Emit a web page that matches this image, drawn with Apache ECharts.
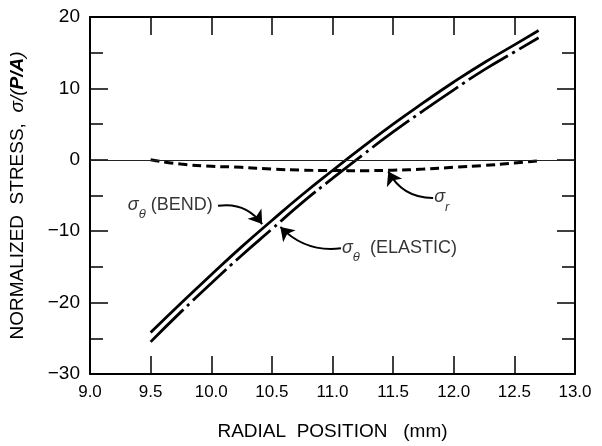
<!DOCTYPE html>
<html>
<head>
<meta charset="utf-8">
<script src="https://cdn.jsdelivr.net/npm/echarts@6/dist/echarts.min.js"></script>
<style>
html,body{margin:0;padding:0;background:#fff;}
#c{width:602px;height:446px;}
</style>
</head>
<body>
<div id="c"></div>
<script>
// ---- data ----
var xs      = [9.5, 9.75, 10.0, 10.25, 10.5, 10.75, 11.0, 11.25, 11.5, 11.75, 12.0, 12.25, 12.5, 12.7];
var bend    = [-24.2, -20.1, -16.1, -12.2, -8.5, -4.9, -1.5, 1.8, 5.0, 8.0, 10.9, 13.6, 16.1, 18.1];
var elastic = [-25.5, -21.3, -17.3, -13.4, -9.7, -6.0, -2.6, 0.7, 3.9, 6.9, 9.8, 12.6, 15.1, 17.1];
var radial  = [0, -0.6, -0.9, -1.05, -1.3, -1.45, -1.5, -1.52, -1.45, -1.3, -1.05, -0.8, -0.45, -0.15];
var xTicks  = [9.0, 9.5, 10.0, 10.5, 11.0, 11.5, 12.0, 12.5, 13.0];
var yTicks  = [-30, -20, -10, 0, 10, 20];
// annotation anchors (data coordinates): [textAnchor, arrowTip]
var bendArrow    = [[10.056, -6.44], [10.42, -9.0]];
var elasticArrow = [[11.07, -12.4], [10.57, -9.4]];
var radialArrow  = [[11.83, -5.35], [11.46, -1.65]];

function pairs(x, y){ return x.map(function(v,i){ return [v, y[i]]; }); }

var FONT = '"Liberation Sans", Arial, sans-serif';
var chart = echarts.init(document.getElementById('c'), null, {renderer:'canvas'});

var axisBase = {
  axisLine:{show:true, onZero:false, lineStyle:{color:'#000', width:2}},
  splitLine:{show:false}
};
var subRich = {
  s:{fontFamily:FONT, fontSize:18, fontStyle:'italic', color:'#000', lineHeight:19, verticalAlign:'top'},
  sub:{fontFamily:FONT, fontSize:13, fontStyle:'italic', color:'#000', lineHeight:13, verticalAlign:'bottom'},
  t:{fontFamily:FONT, fontSize:18, color:'#000', lineHeight:19, verticalAlign:'top'},
  sp:{fontSize:12, lineHeight:25, verticalAlign:'top', color:'#000'}
};

var option = {
  animation:false,
  backgroundColor:'#fff',
  grid:{left:90, right:27, top:17, bottom:62, containLabel:false},
  xAxis:[
    Object.assign({}, axisBase, {
      type:'value', position:'bottom', min:xTicks[0], max:xTicks[xTicks.length-1], interval:0.5,
      axisTick:{show:true, inside:true, length:18, lineStyle:{color:'#000', width:1.5}},
      axisLabel:{show:true, color:'#000', fontFamily:FONT, fontSize:17, margin:10,
        formatter:function(v){ return v.toFixed(1); }},
      name:'RADIAL  POSITION   (mm)', nameLocation:'middle', nameGap:48,
      nameTextStyle:{color:'#000', fontFamily:FONT, fontSize:19}
    }),
    Object.assign({}, axisBase, {
      type:'value', position:'top', min:xTicks[0], max:xTicks[xTicks.length-1], interval:0.5,
      axisTick:{show:true, inside:true, length:18, lineStyle:{color:'#000', width:1.5}},
      axisLabel:{show:false}
    })
  ],
  yAxis:[
    Object.assign({}, axisBase, {
      type:'value', position:'left', min:yTicks[0], max:yTicks[yTicks.length-1], interval:10,
      axisTick:{show:true, inside:true, length:18, lineStyle:{color:'#000', width:1.5}},
      minorTick:{show:true, splitNumber:2, length:13, lineStyle:{color:'#000', width:1.5}},
      axisLabel:{show:true, color:'#000', fontFamily:FONT, fontSize:19, margin:10,
        formatter:function(v){ return v < 0 ? '\u2212' + Math.abs(v) : String(v); }},
      name:'{n|NORMALIZED  STRESS,  }{i|\u03c3/(}{b|P/A}{i|)}', nameLocation:'middle', nameGap:63,
      nameTextStyle:{color:'#000', fontFamily:FONT, fontSize:19,
        rich:{
          n:{fontFamily:FONT, fontSize:19, color:'#000'},
          i:{fontFamily:FONT, fontSize:19, color:'#000', fontStyle:'italic'},
          b:{fontFamily:FONT, fontSize:19, color:'#000', fontStyle:'italic', fontWeight:'bold'}
        }}
    }),
    Object.assign({}, axisBase, {
      type:'value', position:'right', min:yTicks[0], max:yTicks[yTicks.length-1], interval:10,
      axisTick:{show:true, inside:true, length:18, lineStyle:{color:'#000', width:1.5}},
      minorTick:{show:true, splitNumber:2, length:13, lineStyle:{color:'#000', width:1.5}},
      axisLabel:{show:false}
    })
  ],
  series:[
    {
      name:'sigma_r', type:'line', xAxisIndex:0, yAxisIndex:0, data:pairs(xs, radial),
      smooth:true, showSymbol:false, symbol:'none',
      lineStyle:{color:'#000', width:3, type:[9,5]},
      markLine:{silent:true, symbol:['none','none'], label:{show:false},
        lineStyle:{color:'#222', width:1.2, type:'solid'}, data:[{yAxis:0}]}
    },
    {
      name:'bend', type:'line', data:pairs(xs, bend), smooth:true, showSymbol:false, symbol:'none',
      lineStyle:{color:'#000', width:2.8, type:'solid'}
    },
    {
      name:'elastic', type:'line', data:pairs(xs, elastic), smooth:true, showSymbol:false, symbol:'none',
      lineStyle:{color:'#000', width:2.8, type:[46,5,3,5]}
    },
    {
      type:'lines', coordinateSystem:'cartesian2d', polyline:false, silent:true,
      symbol:['none','arrow'], symbolSize:[9,13],
      lineStyle:{color:'#000', width:2, opacity:1},
      itemStyle:{color:'#000', opacity:1},
      data:[
        {coords:bendArrow, lineStyle:{curveness:0.3, opacity:1}},
        {coords:elasticArrow, lineStyle:{curveness:0.25, opacity:1}},
        {coords:radialArrow, lineStyle:{curveness:0.3, opacity:1}}
      ]
    },
    {
      type:'scatter', symbolSize:0, silent:true,
      data:[
        {value:bendArrow[0], label:{show:true, position:'left', distance:1, offset:[-1,3],
          formatter:'{s|\u03c3}{sub|\u03b8}{t| (BEND)}{sp| }', rich:subRich}},
        {value:elasticArrow[0], label:{show:true, position:'right', distance:1, offset:[0,3],
          formatter:'{s|\u03c3}{sub|\u03b8}{t|  (ELASTIC)}{sp| }', rich:subRich}},
        {value:radialArrow[0], label:{show:true, position:'right', distance:1, offset:[0,3],
          formatter:'{s|\u03c3}{sub|r}{sp| }', rich:subRich}}
      ]
    }
  ]
};
chart.setOption(option);
</script>
</body>
</html>
